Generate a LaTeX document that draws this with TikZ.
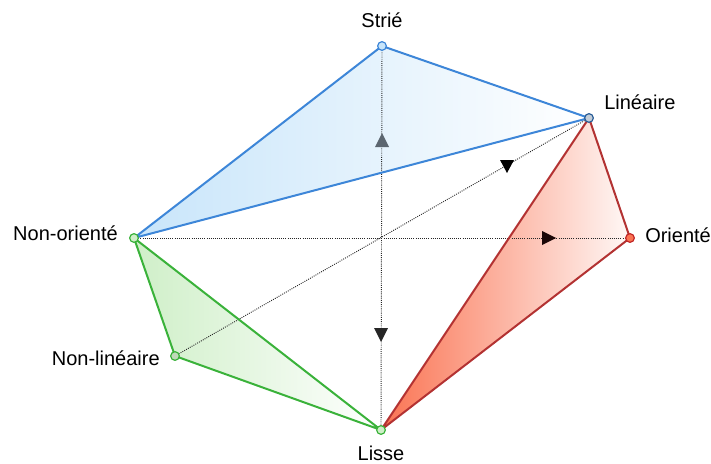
\documentclass[tikz,border=0pt]{standalone}
\usepackage{fontspec}
\setmainfont{Liberation Sans}
\usetikzlibrary{calc}
\definecolor{bstroke}{HTML}{3D86D8}
\definecolor{rstroke}{HTML}{B33232}
\definecolor{gstroke}{HTML}{3AB23A}
\definecolor{bfill}{HTML}{C8E5FA}
\definecolor{rfill}{HTML}{FA7352}
\definecolor{gfill}{HTML}{CFEFC8}
\definecolor{uparrow}{HTML}{5C6670}
\tikzset{
  vtx/.style={circle,draw,line width=0.9pt,inner sep=0pt,minimum size=6.5pt},
  lbl/.style={font=\fontsize{15}{17}\selectfont,inner sep=0pt},
  axisline/.style={line width=0.7pt,dash pattern=on 0.7pt off 0.9pt,black!85},
  edge/.style={line width=1.5pt,line join=round},
}
\begin{document}
\begin{tikzpicture}[x=0.75pt,y=-0.75pt]
\useasboundingbox (0,0) rectangle (711,464);
\coordinate (S) at (382,46);
\coordinate (L) at (589,118);
\coordinate (O) at (630,238);
\coordinate (Li) at (381,430);
\coordinate (NL) at (175,356);
\coordinate (NO) at (134,238);
% fills
\shade[left color=bfill,right color=white] (S) -- (L) -- (NO) -- cycle;
\shade[left color=rfill,right color=rfill!5] (L) -- (O) -- (Li) -- cycle;
\shade[left color=gfill,right color=white] (NO) -- (NL) -- (Li) -- cycle;
% dotted axes
\draw[axisline] (S) -- (Li);
\draw[axisline] (NO) -- (O);
\draw[axisline] (NL) -- (L);
% arrow heads
\fill[uparrow] (382,133) -- (389,147) -- (375,147) -- cycle;
\fill[black] (500,160) -- (514,160) -- (507,173) -- cycle;
\fill[black!85!rstroke] (556,238) -- (542,231) -- (542,245) -- cycle;
\fill[black!85] (381,342) -- (374,328) -- (388,328) -- cycle;
% strokes
\draw[edge,bstroke] (S) -- (L) -- (NO) -- cycle;
\draw[edge,rstroke] (L) -- (O) -- (Li) -- cycle;
\draw[edge,gstroke] (NO) -- (NL) -- (Li) -- cycle;
% vertices
\node[vtx,draw=bstroke,fill=bfill] (s) at (S) {};
\node[vtx,draw=bstroke!70!black,fill=bstroke!35!gray!40] (l) at (L) {};
\node[vtx,draw=rstroke!80!red,fill=rfill] (o) at (O) {};
\node[vtx,draw=gstroke,fill=gfill] (li) at (Li) {};
\node[vtx,draw=gstroke,fill=gfill!80!gray] (nl) at (NL) {};
\node[vtx,draw=gstroke,fill=gfill] (no) at (NO) {};
% labels
\node[lbl] (ts) at (382,20) {Strié};
\node[lbl,anchor=west] (tl) at (604,102) {Linéaire};
\node[lbl,anchor=west] (to) at (645,235) {Orienté};
\node[lbl,anchor=east] (tno) at (118,233) {Non-orienté};
\node[lbl,anchor=east] (tnl) at (160,358) {Non-linéaire};
\node[lbl] (tli) at (381,453) {Lisse};
\end{tikzpicture}
\end{document}
